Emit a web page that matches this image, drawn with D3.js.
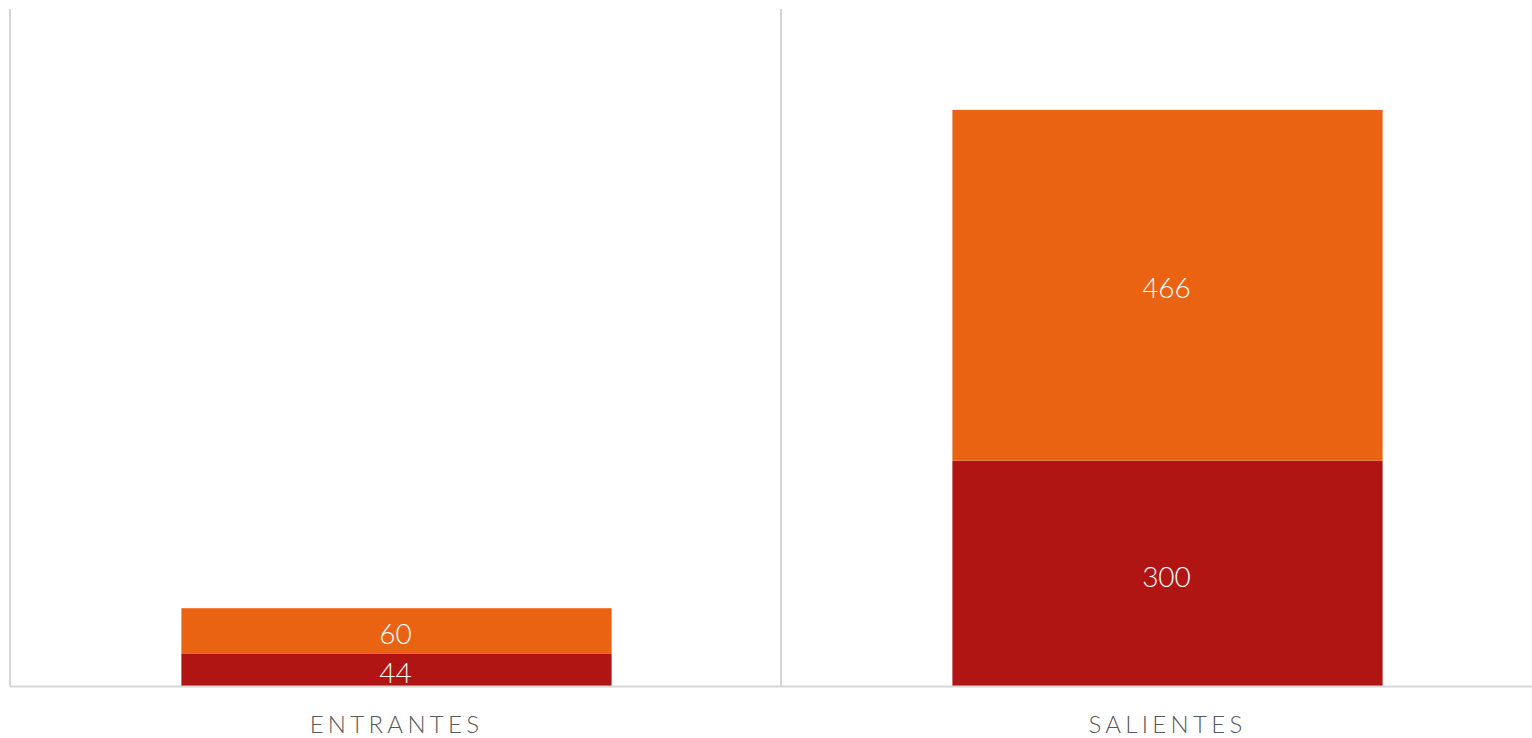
<!DOCTYPE html>
<html><head><meta charset="utf-8">
<script src="https://cdn.jsdelivr.net/npm/d3@7"></script>
<style>html,body{margin:0;padding:0;background:#fff;overflow:hidden}</style>
</head><body>
<svg id="c" width="1532" height="738"></svg>
<script>
const categories = ["ENTRANTES", "SALIENTES"];
const seriesNames = ["Serie 1", "Serie 2"];
const bottomValues = [44, 300];
const topValues = [60, 466];
const colors = ["#B01513", "#E96312"];

(function () {
const svg = d3.select("#c");
const mLeft = 10, mRight = 1552, mTop = 9, mBottom = 686.5;
const x = d3.scaleBand().domain(categories).range([mLeft, mRight]).paddingInner(0).paddingOuter(0);
const y = d3.scaleLinear().domain([0, 900]).range([mBottom, mTop]);

const rows = categories.map((c, i) => ({cat: c, s0: bottomValues[i], s1: topValues[i]}));
const stack = d3.stack().keys(["s0", "s1"])(rows);

const edges = [mLeft, x("SALIENTES")];
svg.selectAll("line.v").data(edges).enter().append("line")
  .attr("x1", d => d).attr("x2", d => d).attr("y1", mTop).attr("y2", mBottom)
  .attr("stroke", "#d6d6d6").attr("stroke-width", 2);

const barPad = 0.442;
const bw = x.bandwidth() * (1 - barPad);
const off = (x.bandwidth() - bw) / 2;

stack.forEach((layer, li) => {
  svg.selectAll("rect.l" + li).data(layer).enter().append("rect")
    .attr("x", d => x(d.data.cat) + off + 1)
    .attr("width", bw)
    .attr("y", d => y(d[1]))
    .attr("height", d => y(d[0]) - y(d[1]))
    .attr("fill", colors[li]);
  svg.selectAll("text.l" + li).data(layer).enter().append("text")
    .attr("x", d => x(d.data.cat) + x.bandwidth() / 2)
    .attr("y", d => (y(d[0]) + y(d[1])) / 2 + 3)
    .attr("dy", "0.36em")
    .attr("text-anchor", "middle")
    .attr("fill", "#fff")
    .style("font-family", "Lato, 'Open Sans', sans-serif")
    .style("font-weight", 300)
    .style("font-size", "28px")
    .text(d => d[1] - d[0]);
});

svg.append("line").attr("x1", mLeft).attr("x2", mRight).attr("y1", mBottom).attr("y2", mBottom)
  .attr("stroke", "#d6d6d6").attr("stroke-width", 2);

svg.selectAll("text.cat").data(categories).enter().append("text")
  .attr("x", d => x(d) + x.bandwidth() / 2 + 1)
  .attr("y", 733)
  .attr("text-anchor", "middle")
  .attr("fill", "#595959")
  .style("font-family", "Lato, 'Open Sans', sans-serif")
  .style("font-weight", 300)
  .style("font-size", "24px")
  .style("letter-spacing", "4.3px")
  .text(d => d);
})();
</script>
</body></html>
